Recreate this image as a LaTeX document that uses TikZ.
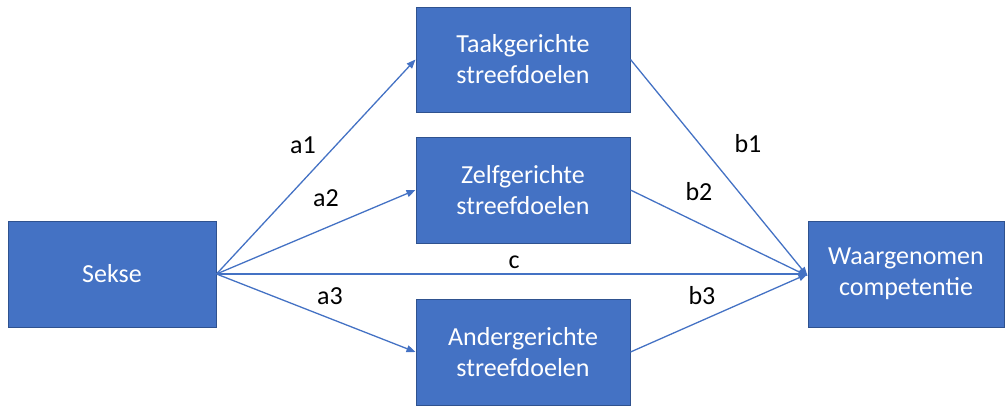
\documentclass[tikz,border=0pt]{standalone}
\usepackage{fontspec}
\setmainfont{Carlito}
\usetikzlibrary{arrows.meta}
\definecolor{boxfill}{HTML}{4472C4}
\definecolor{boxline}{HTML}{2F528F}
\definecolor{arrowc}{HTML}{4472C4}
\tikzset{
  blok/.style={draw=boxline, line width=1pt, fill=boxfill, text=white, align=center,
    font=\fontsize{26}{31}\selectfont, inner sep=0pt},
  pijl/.style={draw=arrowc, line width=1.3pt, -{Triangle[length=9pt,width=7pt]}},
  lbl/.style={font=\fontsize{26}{31}\selectfont, text=black, inner sep=0pt}
}
\begin{document}
\begin{tikzpicture}[x=1pt,y=-1pt]
\useasboundingbox (0,0) rectangle (1008,405);
\node[blok, minimum width=208pt, minimum height=106pt] (sekse) at (112,274) {Sekse};
\node[blok, minimum width=214pt, minimum height=105pt] (taak) at (523,59.5) {Taakgerichte\\streefdoelen};
\node[blok, minimum width=214pt, minimum height=106pt] (zelf) at (523,190) {Zelfgerichte\\streefdoelen};
\node[blok, minimum width=214pt, minimum height=106pt] (ander) at (523,352) {Andergerichte\\streefdoelen};
\node[blok, minimum width=196pt, minimum height=106pt] (waar) at (906,274) {Waargenomen\\competentie};
\draw[pijl] (sekse.east) -- (taak.west);
\draw[pijl] (sekse.east) -- (zelf.west);
\draw[pijl] (sekse.east) -- (ander.west);
\draw[pijl] (sekse.east) -- (waar.west);
\draw[pijl] (taak.east) -- ([yshift=-2pt]waar.west);
\draw[pijl] (zelf.east) -- ([yshift=-2pt]waar.west);
\draw[pijl] (ander.east) -- (waar.west);
\node[lbl] (la1) at (303,145) {a1};
\node[lbl] (la2) at (326,198) {a2};
\node[lbl] (la3) at (330,296) {a3};
\node[lbl] (lc) at (514,262) {c};
\node[lbl] (lb1) at (748,144) {b1};
\node[lbl] (lb2) at (699,192) {b2};
\node[lbl] (lb3) at (702,296) {b3};
\end{tikzpicture}
\end{document}
